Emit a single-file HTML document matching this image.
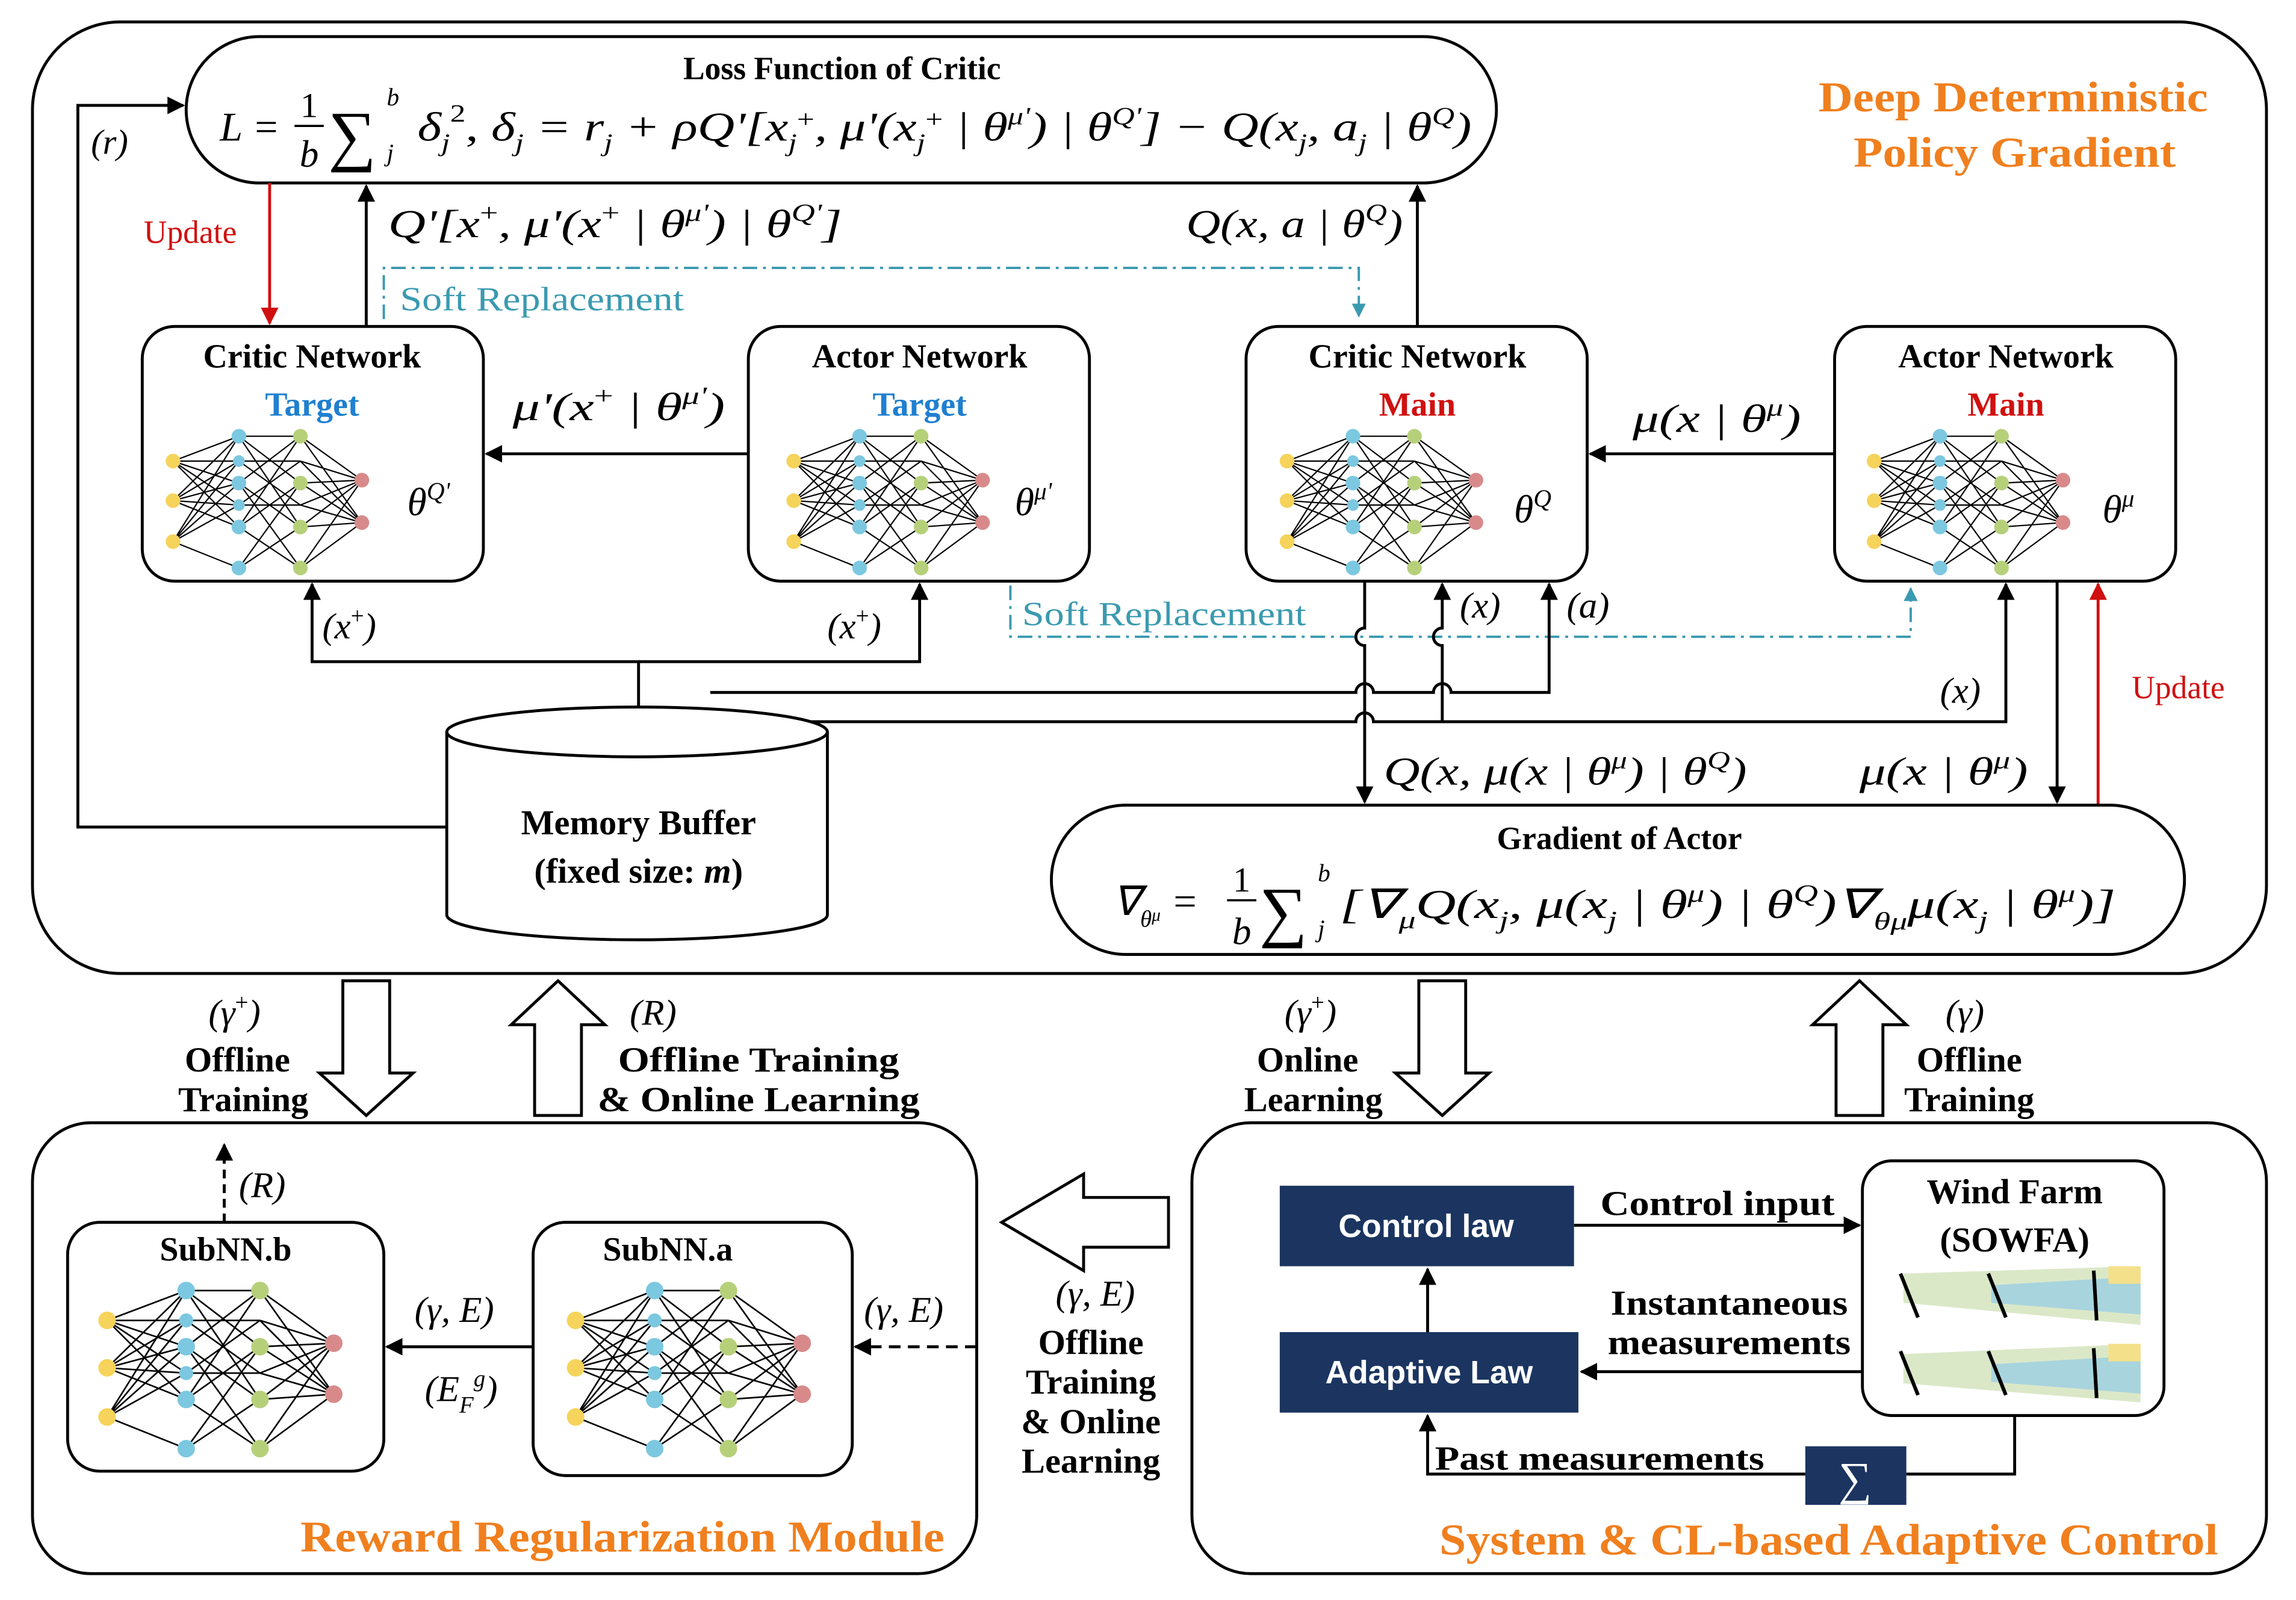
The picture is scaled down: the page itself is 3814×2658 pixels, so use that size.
<!DOCTYPE html>
<html><head><meta charset="utf-8"><style>
html,body{margin:0;padding:0;background:#fff}
svg{display:block}
text{font-family:"Liberation Serif",serif;fill:#000}
.b{font-weight:bold}
.it{font-style:italic}
</style></head><body>
<svg width="3814" height="2658" viewBox="0 0 1568 1093" xmlns="http://www.w3.org/2000/svg">
<defs>
<marker id="ah" viewBox="0 0 10 10" refX="9" refY="5" markerWidth="6" markerHeight="6" orient="auto-start-reverse"><path d="M0,0 L10,5 L0,10 z" fill="#000"/></marker>
<marker id="ar" viewBox="0 0 10 10" refX="9" refY="5" markerWidth="6" markerHeight="6" orient="auto-start-reverse"><path d="M0,0 L10,5 L0,10 z" fill="#d01010"/></marker>
<marker id="at" viewBox="0 0 10 10" refX="9" refY="5" markerWidth="6" markerHeight="6" orient="auto-start-reverse"><path d="M0,0 L10,5 L0,10 z" fill="#3a9ab0"/></marker>
<g id="nn">
<g stroke="#000" stroke-width="0.9">
<path d="M0,0 L45,-17 M0,0 L45,0 M0,0 L45,15 M0,0 L45,30 M0,0 L45,45 M0,27 L45,-17 M0,27 L45,0 M0,27 L45,15 M0,27 L45,30 M0,27 L45,45 M0,55 L45,-17 M0,55 L45,0 M0,55 L45,15 M0,55 L45,30 M0,55 L45,73"/>
<path d="M45,-17 L87,-17 M45,-17 L87,15 M45,-17 L87,45 M45,15 L87,-17 M45,15 L87,45 M45,15 L87,73 M45,45 L87,15 M45,45 L87,-17 M45,45 L87,73 M45,73 L87,45 M45,73 L87,15 M45,0 L87,30 M45,30 L87,0 M45,0 L87,0 M45,30 L87,30"/>
<path d="M87,-17 L129,13 M87,0 L129,13 M87,15 L129,13 M87,30 L129,13 M87,45 L129,13 M87,73 L129,13 M87,-17 L129,42 M87,15 L129,42 M87,45 L129,42 M87,73 L129,42 M87,0 L129,42 M87,30 L129,42"/>
</g>
<g stroke="none">
<circle cx="0" cy="0" r="5" fill="#f6d35a"/><circle cx="0" cy="27" r="5" fill="#f6d35a"/><circle cx="0" cy="55" r="5" fill="#f6d35a"/>
<circle cx="45" cy="-17" r="5" fill="#7cc8e0"/><circle cx="45" cy="15" r="5" fill="#7cc8e0"/><circle cx="45" cy="45" r="5" fill="#7cc8e0"/><circle cx="45" cy="73" r="5" fill="#7cc8e0"/><circle cx="45" cy="0" r="4" fill="#7cc8e0"/><circle cx="45" cy="30" r="4" fill="#7cc8e0"/>
<circle cx="87" cy="-17" r="5" fill="#b6d07a"/><circle cx="87" cy="15" r="5" fill="#b6d07a"/><circle cx="87" cy="45" r="5" fill="#b6d07a"/><circle cx="87" cy="73" r="5" fill="#b6d07a"/>
<circle cx="129" cy="13" r="5" fill="#d88a8a"/><circle cx="129" cy="42" r="5" fill="#d88a8a"/>
</g>
</g>
</defs>

<!-- Outer DDPG -->
<rect x="22" y="15" width="1526" height="650" rx="60" fill="none" stroke="#000" stroke-width="2"/>
<text x="1242" y="76" font-size="29" class="b" style="fill:#f07f1e" textLength="266" lengthAdjust="spacingAndGlyphs">Deep Deterministic</text>
<text x="1266" y="114" font-size="29" class="b" style="fill:#f07f1e" textLength="220" lengthAdjust="spacingAndGlyphs">Policy Gradient</text>

<!-- Loss -->
<rect x="127" y="25" width="895" height="100" rx="50" fill="#fff" stroke="#000" stroke-width="2"/>
<text x="575" y="54" font-size="22" class="b" text-anchor="middle">Loss Function of Critic</text>
<text x="150" y="96" font-size="28" class="it">L =</text>
<text x="211" y="80" font-size="24" text-anchor="middle">1</text>
<line x1="201" y1="86" x2="221" y2="86" stroke="#000" stroke-width="1.5"/>
<text x="211" y="114" font-size="26" class="it" text-anchor="middle">b</text>
<text x="224" y="108" font-size="46">∑</text>
<text x="264" y="72" font-size="17" class="it">b</text>
<text x="264" y="110" font-size="17" class="it">j</text>
<text x="285" y="96" font-size="28" class="it" textLength="720" lengthAdjust="spacingAndGlyphs">δ<tspan font-size="17" dy="7">j</tspan><tspan font-size="17" dy="-20" font-style="normal">2</tspan><tspan dy="13" font-style="normal">,  </tspan>δ<tspan font-size="17" dy="7">j</tspan><tspan dy="-7"> = r</tspan><tspan font-size="17" dy="7">j</tspan><tspan dy="-7"> + ρQ'[x</tspan><tspan font-size="17" dy="7">j</tspan><tspan font-size="17" dy="-16" font-style="normal">+</tspan><tspan dy="9">, μ'(x</tspan><tspan font-size="17" dy="7">j</tspan><tspan font-size="17" dy="-16" font-style="normal">+</tspan><tspan dy="9"> | θ</tspan><tspan font-size="17" dy="-11">μ'</tspan><tspan dy="11">) | θ</tspan><tspan font-size="17" dy="-11">Q'</tspan><tspan dy="11">] − Q(x</tspan><tspan font-size="17" dy="7">j</tspan><tspan dy="-7">, a</tspan><tspan font-size="17" dy="7">j</tspan><tspan dy="-7"> | θ</tspan><tspan font-size="17" dy="-11">Q</tspan><tspan dy="11">)</tspan></text>

<!-- (r) -->
<polyline points="305,565 53,565 53,72 125,72" fill="none" stroke="#000" stroke-width="2" marker-end="url(#ah)"/>
<text x="62" y="105" font-size="24" class="it">(r)</text>
<line x1="184" y1="125" x2="184" y2="221" stroke="#d01010" stroke-width="2" marker-end="url(#ar)"/>
<text x="98" y="166" font-size="22" style="fill:#d01010">Update</text>
<line x1="250" y1="223" x2="250" y2="127" stroke="#000" stroke-width="2" marker-end="url(#ah)"/>
<text x="265" y="162" font-size="27" class="it" textLength="310" lengthAdjust="spacingAndGlyphs">Q'[x<tspan font-size="17" dy="-11" font-style="normal">+</tspan><tspan dy="11">, μ'(x</tspan><tspan font-size="17" dy="-11" font-style="normal">+</tspan><tspan dy="11"> | θ</tspan><tspan font-size="17" dy="-11">μ'</tspan><tspan dy="11">) | θ</tspan><tspan font-size="17" dy="-11">Q'</tspan><tspan dy="11">]</tspan></text>
<polyline points="262,218 262,183 928,183 928,216" fill="none" stroke="#3a9ab0" stroke-width="1.6" stroke-dasharray="10,4,2,4" marker-end="url(#at)"/>
<text x="273" y="212" font-size="23" style="fill:#3a9ab0" textLength="194" lengthAdjust="spacingAndGlyphs">Soft Replacement</text>
<line x1="968" y1="223" x2="968" y2="127" stroke="#000" stroke-width="2" marker-end="url(#ah)"/>
<text x="810" y="162" font-size="27" class="it" textLength="148" lengthAdjust="spacingAndGlyphs">Q(x, a | θ<tspan font-size="17" dy="-11">Q</tspan><tspan dy="11">)</tspan></text>

<!-- Networks -->
<rect x="97" y="223" width="233" height="174" rx="22" fill="#fff" stroke="#000" stroke-width="2"/>
<text x="213" y="251" font-size="23" class="b" text-anchor="middle">Critic Network</text>
<text x="213" y="284" font-size="23" class="b" text-anchor="middle" style="fill:#1f7fd0">Target</text>
<use href="#nn" x="118" y="315"/>
<text x="278" y="352" font-size="27" class="it">θ<tspan font-size="17" dy="-11">Q'</tspan></text>

<rect x="511" y="223" width="233" height="174" rx="22" fill="#fff" stroke="#000" stroke-width="2"/>
<text x="628" y="251" font-size="23" class="b" text-anchor="middle">Actor Network</text>
<text x="628" y="284" font-size="23" class="b" text-anchor="middle" style="fill:#1f7fd0">Target</text>
<use href="#nn" x="542" y="315"/>
<text x="693" y="352" font-size="27" class="it">θ<tspan font-size="17" dy="-11">μ'</tspan></text>

<rect x="851" y="223" width="233" height="174" rx="22" fill="#fff" stroke="#000" stroke-width="2"/>
<text x="968" y="251" font-size="23" class="b" text-anchor="middle">Critic Network</text>
<text x="968" y="284" font-size="23" class="b" text-anchor="middle" style="fill:#d01010">Main</text>
<use href="#nn" x="879" y="315"/>
<text x="1034" y="357" font-size="27" class="it">θ<tspan font-size="17" dy="-11">Q</tspan></text>

<rect x="1253" y="223" width="233" height="174" rx="22" fill="#fff" stroke="#000" stroke-width="2"/>
<text x="1370" y="251" font-size="23" class="b" text-anchor="middle">Actor Network</text>
<text x="1370" y="284" font-size="23" class="b" text-anchor="middle" style="fill:#d01010">Main</text>
<use href="#nn" x="1280" y="315"/>
<text x="1436" y="357" font-size="27" class="it">θ<tspan font-size="17" dy="-11">μ</tspan></text>

<line x1="511" y1="310" x2="332" y2="310" stroke="#000" stroke-width="2" marker-end="url(#ah)"/>
<text x="350" y="287" font-size="27" class="it" textLength="145" lengthAdjust="spacingAndGlyphs">μ'(x<tspan font-size="17" dy="-11" font-style="normal">+</tspan><tspan dy="11"> | θ</tspan><tspan font-size="17" dy="-11">μ'</tspan><tspan dy="11">)</tspan></text>
<line x1="1253" y1="310" x2="1086" y2="310" stroke="#000" stroke-width="2" marker-end="url(#ah)"/>
<text x="1115" y="295" font-size="27" class="it" textLength="115" lengthAdjust="spacingAndGlyphs">μ(x | θ<tspan font-size="17" dy="-11">μ</tspan><tspan dy="11">)</tspan></text>

<!-- memory to targets -->
<polyline points="436,485 436,452 213,452 213,399" fill="none" stroke="#000" stroke-width="2" marker-end="url(#ah)"/>
<polyline points="436,452 628,452 628,399" fill="none" stroke="#000" stroke-width="2" marker-end="url(#ah)"/>
<text x="220" y="436" font-size="25" class="it">(x<tspan font-size="16" dy="-10" font-style="normal">+</tspan><tspan dy="10">)</tspan></text>
<text x="565" y="436" font-size="25" class="it">(x<tspan font-size="16" dy="-10" font-style="normal">+</tspan><tspan dy="10">)</tspan></text>

<!-- teal 2 -->
<polyline points="690,400 690,435 1305,435 1305,402" fill="none" stroke="#3a9ab0" stroke-width="1.6" stroke-dasharray="10,4,2,4" marker-end="url(#at)"/>
<text x="698" y="427" font-size="23" style="fill:#3a9ab0" textLength="194" lengthAdjust="spacingAndGlyphs">Soft Replacement</text>

<!-- lines from memory -->
<g fill="none" stroke="#000" stroke-width="2">
<path d="M485,473 L926,473 A6,6 0 0 1 938,473 L979,473 A6,6 0 0 1 991,473 L1058,473 L1058,399" marker-end="url(#ah)"/>
<path d="M485,493 L926,493 A6,6 0 0 1 938,493 L1370,493 L1370,399" marker-end="url(#ah)"/>
<path d="M985,493 L985,441 A6,6 0 0 1 985,429 L985,399" marker-end="url(#ah)"/>
<path d="M932,397 L932,429 A6,6 0 0 0 932,441 L932,548" marker-end="url(#ah)"/>
<path d="M1405,397 L1405,548" marker-end="url(#ah)"/>
</g>
<line x1="1433" y1="550" x2="1433" y2="399" stroke="#d01010" stroke-width="2" marker-end="url(#ar)"/>
<text x="1456" y="477" font-size="22" style="fill:#d01010">Update</text>
<text x="1325" y="480" font-size="25" class="it">(x)</text>
<text x="997" y="422" font-size="25" class="it">(x)</text>
<text x="1070" y="422" font-size="25" class="it">(a)</text>
<text x="945" y="536" font-size="27" class="it" textLength="248" lengthAdjust="spacingAndGlyphs">Q(x, μ(x | θ<tspan font-size="17" dy="-11">μ</tspan><tspan dy="11">) | θ</tspan><tspan font-size="17" dy="-11">Q</tspan><tspan dy="11">)</tspan></text>
<text x="1270" y="536" font-size="27" class="it" textLength="115" lengthAdjust="spacingAndGlyphs">μ(x | θ<tspan font-size="17" dy="-11">μ</tspan><tspan dy="11">)</tspan></text>

<!-- Memory buffer -->
<path d="M305,500 L305,625 A130,17 0 0 0 565,625 L565,500" fill="#fff" stroke="#000" stroke-width="2"/>
<ellipse cx="435" cy="500" rx="130" ry="17" fill="#fff" stroke="#000" stroke-width="2"/>
<text x="436" y="570" font-size="24" class="b" text-anchor="middle">Memory Buffer</text>
<text x="436" y="603" font-size="24" class="b" text-anchor="middle">(fixed size: <tspan class="it">m</tspan>)</text>

<!-- Gradient -->
<rect x="718" y="550" width="774" height="102" rx="51" fill="#fff" stroke="#000" stroke-width="2"/>
<text x="1106" y="580" font-size="22" class="b" text-anchor="middle">Gradient of Actor</text>
<text x="760" y="625" font-size="28" class="it">∇<tspan font-size="16" dy="8">θ</tspan><tspan font-size="12" dy="-4">μ</tspan><tspan dy="-4"> =</tspan></text>
<text x="848" y="609" font-size="24" text-anchor="middle">1</text>
<line x1="838" y1="615" x2="858" y2="615" stroke="#000" stroke-width="1.5"/>
<text x="848" y="645" font-size="26" class="it" text-anchor="middle">b</text>
<text x="860" y="638" font-size="46">∑</text>
<text x="900" y="602" font-size="17" class="it">b</text>
<text x="900" y="640" font-size="17" class="it">j</text>
<text x="915" y="627" font-size="28" class="it" textLength="530" lengthAdjust="spacingAndGlyphs">[∇<tspan font-size="17" dy="7">μ</tspan><tspan dy="-7">Q(x</tspan><tspan font-size="17" dy="7">j</tspan><tspan dy="-7">, μ(x</tspan><tspan font-size="17" dy="7">j</tspan><tspan dy="-7"> | θ</tspan><tspan font-size="17" dy="-11">μ</tspan><tspan dy="11">) | θ</tspan><tspan font-size="17" dy="-11">Q</tspan><tspan dy="11">)∇</tspan><tspan font-size="17" dy="8">θμ</tspan><tspan dy="-8">μ(x</tspan><tspan font-size="17" dy="7">j</tspan><tspan dy="-7"> | θ</tspan><tspan font-size="17" dy="-11">μ</tspan><tspan dy="11">)]</tspan></text>

<!-- Hollow arrows -->
<g fill="#fff" stroke="#000" stroke-width="2">
<path d="M234,670 L266,670 L266,733 L282,733 L250,762 L218,733 L234,733 Z"/>
<path d="M365,762 L397,762 L397,700 L413,700 L381,670 L349,700 L365,700 Z"/>
<path d="M969,670 L1001,670 L1001,733 L1017,733 L985,762 L953,733 L969,733 Z"/>
<path d="M1254,762 L1286,762 L1286,700 L1302,700 L1270,670 L1238,700 L1254,700 Z"/>
<path d="M798,818 L798,852 L740,852 L740,868 L684,835 L740,802 L740,818 Z"/>
</g>
<text x="160" y="700" font-size="25" class="it" text-anchor="middle">(γ<tspan font-size="16" dy="-10" font-style="normal">+</tspan><tspan dy="10">)</tspan></text>
<text x="162" y="732" font-size="24" class="b" text-anchor="middle">Offline</text>
<text x="166" y="759" font-size="24" class="b" text-anchor="middle">Training</text>
<text x="430" y="700" font-size="25" class="it">(R)</text>
<text x="422" y="732" font-size="24" class="b" textLength="192" lengthAdjust="spacingAndGlyphs">Offline Training</text>
<text x="408" y="759" font-size="24" class="b" textLength="220" lengthAdjust="spacingAndGlyphs">&amp; Online Learning</text>
<text x="895" y="700" font-size="25" class="it" text-anchor="middle">(γ<tspan font-size="16" dy="-10" font-style="normal">+</tspan><tspan dy="10">)</tspan></text>
<text x="893" y="732" font-size="24" class="b" text-anchor="middle">Online</text>
<text x="897" y="759" font-size="24" class="b" text-anchor="middle">Learning</text>
<text x="1342" y="700" font-size="25" class="it" text-anchor="middle">(γ)</text>
<text x="1345" y="732" font-size="24" class="b" text-anchor="middle">Offline</text>
<text x="1345" y="759" font-size="24" class="b" text-anchor="middle">Training</text>
<text x="748" y="892" font-size="25" class="it" text-anchor="middle">(γ, E)</text>
<text x="745" y="925" font-size="24" class="b" text-anchor="middle">Offline</text>
<text x="745" y="952" font-size="24" class="b" text-anchor="middle">Training</text>
<text x="745" y="979" font-size="24" class="b" text-anchor="middle">&amp; Online</text>
<text x="745" y="1006" font-size="24" class="b" text-anchor="middle">Learning</text>

<!-- Left module -->
<rect x="22" y="767" width="645" height="308" rx="40" fill="none" stroke="#000" stroke-width="2"/>
<text x="205" y="1060" font-size="30" class="b" style="fill:#f07f1e" textLength="440" lengthAdjust="spacingAndGlyphs">Reward Regularization Module</text>
<line x1="153" y1="835" x2="153" y2="782" stroke="#000" stroke-width="2" stroke-dasharray="6,4" marker-end="url(#ah)"/>
<text x="163" y="818" font-size="25" class="it">(R)</text>
<rect x="46" y="835" width="216" height="170" rx="22" fill="#fff" stroke="#000" stroke-width="2"/>
<text x="154" y="861" font-size="23" class="b" text-anchor="middle">SubNN.b</text>
<g transform="translate(73,902) scale(1.2)"><use href="#nn"/></g>
<rect x="364" y="835" width="218" height="173" rx="22" fill="#fff" stroke="#000" stroke-width="2"/>
<text x="456" y="861" font-size="23" class="b" text-anchor="middle">SubNN.a</text>
<g transform="translate(393,902) scale(1.2)"><use href="#nn"/></g>
<line x1="364" y1="920" x2="264" y2="920" stroke="#000" stroke-width="2" marker-end="url(#ah)"/>
<text x="283" y="903" font-size="25" class="it">(γ, E)</text>
<text x="290" y="957" font-size="25" class="it">(E<tspan font-size="16" dy="8">F</tspan><tspan font-size="16" dy="-18">g</tspan><tspan dy="10">)</tspan></text>
<line x1="667" y1="920" x2="584" y2="920" stroke="#000" stroke-width="2" stroke-dasharray="8,5" marker-end="url(#ah)"/>
<text x="590" y="903" font-size="25" class="it">(γ, E)</text>

<!-- Right module -->
<rect x="814" y="767" width="734" height="308" rx="40" fill="none" stroke="#000" stroke-width="2"/>
<text x="983" y="1062" font-size="30" class="b" style="fill:#f07f1e" textLength="532" lengthAdjust="spacingAndGlyphs">System &amp; CL-based Adaptive Control</text>
<rect x="874" y="810" width="201" height="55" fill="#1b3560"/>
<text x="974" y="845" font-size="22" class="b" text-anchor="middle" style="fill:#fff;font-family:'Liberation Sans',sans-serif">Control law</text>
<rect x="874" y="910" width="204" height="55" fill="#1b3560"/>
<text x="976" y="945" font-size="22" class="b" text-anchor="middle" style="fill:#fff;font-family:'Liberation Sans',sans-serif">Adaptive Law</text>
<line x1="1075" y1="837" x2="1270" y2="837" stroke="#000" stroke-width="2" marker-end="url(#ah)"/>
<text x="1093" y="830" font-size="24" class="b" textLength="160" lengthAdjust="spacingAndGlyphs">Control input</text>
<line x1="1272" y1="937" x2="1080" y2="937" stroke="#000" stroke-width="2" marker-end="url(#ah)"/>
<text x="1100" y="898" font-size="24" class="b" textLength="162" lengthAdjust="spacingAndGlyphs">Instantaneous</text>
<text x="1098" y="925" font-size="24" class="b" textLength="166" lengthAdjust="spacingAndGlyphs">measurements</text>
<line x1="975" y1="910" x2="975" y2="867" stroke="#000" stroke-width="2" marker-end="url(#ah)"/>
<polyline points="1376,967 1376,1007 1302,1007" fill="none" stroke="#000" stroke-width="2"/>
<polyline points="1233,1007 975,1007 975,967" fill="none" stroke="#000" stroke-width="2" marker-end="url(#ah)"/>
<text x="980" y="1004" font-size="23" class="b" textLength="225" lengthAdjust="spacingAndGlyphs">Past measurements</text>
<rect x="1233" y="988" width="69" height="40" fill="#1b3560"/>
<text x="1267" y="1021" font-size="32" text-anchor="middle" style="fill:#fff">∑</text>
<rect x="1272" y="793" width="206" height="174" rx="20" fill="#fff" stroke="#000" stroke-width="2"/>
<text x="1376" y="822" font-size="24" class="b" text-anchor="middle">Wind Farm</text>
<text x="1376" y="855" font-size="24" class="b" text-anchor="middle">(SOWFA)</text>
<path d="M1300,870 L1462,865 L1462,905 L1300,890 Z" fill="#dbe8c8"/>
<path d="M1360,878 L1462,872 L1462,898 L1360,890 Z" fill="#a8d4de"/>
<rect x="1440" y="865" width="22" height="12" fill="#f4e08a"/>
<path d="M1300,925 L1462,918 L1462,958 L1300,945 Z" fill="#dbe8c8"/>
<path d="M1360,932 L1462,926 L1462,952 L1360,944 Z" fill="#a8d4de"/>
<rect x="1440" y="918" width="22" height="12" fill="#f4e08a"/>
<g stroke="#000" stroke-width="2.5">
<line x1="1298" y1="870" x2="1310" y2="900"/><line x1="1358" y1="870" x2="1370" y2="900"/><line x1="1430" y1="868" x2="1432" y2="902"/>
<line x1="1298" y1="923" x2="1310" y2="953"/><line x1="1358" y1="923" x2="1370" y2="953"/><line x1="1430" y1="921" x2="1432" y2="955"/>
</g>
</svg>
</body></html>
